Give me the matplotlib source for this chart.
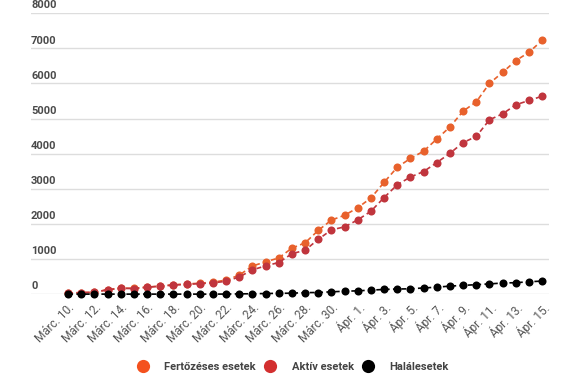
import matplotlib.pyplot as plt
from matplotlib.lines import Line2D

plt.rcParams['font.family'] = ['Roboto', 'DejaVu Sans']

# napi adatok, márc. 10. - ápr. 15.
fertozes = [25, 45, 50, 130, 170, 165, 200, 230, 265, 290, 310, 340, 400, 540,
            800, 920, 1030, 1310, 1460, 1815, 2109, 2245, 2460, 2738, 3183, 3613,
            3864, 4070, 4417, 4761, 5210, 5475, 6000, 6314, 6648, 6886, 7225]
aktiv = [25, 45, 50, 125, 165, 160, 195, 225, 260, 276, 300, 320, 365, 490,
         690, 805, 900, 1150, 1250, 1560, 1830, 1915, 2115, 2360, 2750, 3115,
         3335, 3490, 3745, 4010, 4315, 4490, 4965, 5133, 5391, 5514, 5635]
halal = [0, 0, 0, 0, 0, 0, 0, 0, 0, 0, 0, 0, 2, 7,
         11, 17, 23, 26, 43, 46, 66, 82, 94, 114, 133, 146,
         151, 176, 197, 229, 248, 270, 291, 316, 326, 351, 372]

tick_labels = ['Márc. 10.', 'Márc. 12.', 'Márc. 14.', 'Márc. 16.', 'Márc. 18.',
               'Márc. 20.', 'Márc. 22.', 'Márc. 24.', 'Márc. 26.', 'Márc. 28.',
               'Márc. 30.', 'Ápr. 1.', 'Ápr. 3.', 'Ápr. 5.', 'Ápr. 7.',
               'Ápr. 9.', 'Ápr. 11.', 'Ápr. 13.', 'Ápr. 15.']
y_ticks = [0, 1000, 2000, 3000, 4000, 5000, 6000, 7000, 8000]

series = [('Fertőzéses esetek', fertozes, '#e8612c', '#f4511e'),
          ('Aktív esetek', aktiv, '#c0353d', '#d32f2f'),
          ('Halálesetek', halal, '#000000', '#000000')]

fig = plt.figure(figsize=(5.75, 3.87), dpi=100)
ax = fig.add_axes([0.054, 0.240, 0.901, 0.726])

days = list(range(len(fertozes)))
for name, vals, col, _ in series:
    ax.plot(days, vals, color=col, linestyle=(0, (3, 2)), linewidth=1.2,
            marker='o', markersize=5.8, markeredgewidth=0, clip_on=False)

ax.set_xlim(-2.81, 36.53)
ax.set_ylim(0, 8000)
ax.set_yticks(y_ticks)
ax.set_yticklabels([])
ax.grid(axis='y', color='#dddddd', linewidth=1)
ax.set_axisbelow(True)
for s in ax.spines.values():
    s.set_visible(False)
ax.tick_params(axis='y', length=0)

for v in y_ticks:
    ax.annotate(str(v), xy=(0, v), xycoords=ax.get_yaxis_transform(),
                xytext=(0, 2), textcoords='offset points', ha='left', va='bottom',
                fontsize=8, fontweight='bold', color='#4a4a4a')

ax.set_xticks(days[::2])
ax.set_xticklabels(tick_labels, rotation=45, ha='right', rotation_mode='anchor',
                   fontsize=8.5, color='#555555')
ax.tick_params(axis='x', length=0, pad=5)

handles = [Line2D([], [], linestyle='none', marker='o', markersize=9.5,
                  markeredgewidth=0, color=lc) for _, _, _, lc in series]
fig.legend(handles, [s[0] for s in series], loc='center', bbox_to_anchor=(0.505, 0.052),
           ncol=3, frameon=False, handletextpad=0.9, columnspacing=0.3,
           prop={'size': 8, 'weight': 'bold'}, labelcolor='#444444')

fig.savefig('out.png', dpi=100)
